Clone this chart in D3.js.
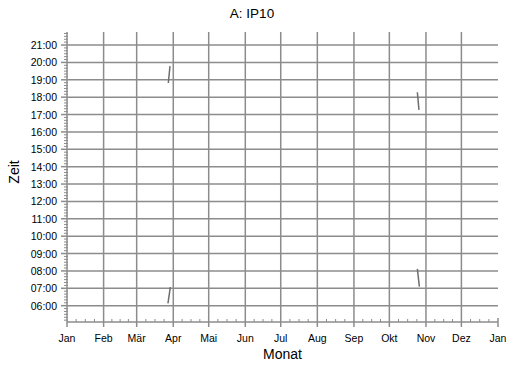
<!DOCTYPE html>
<html>
<head>
<meta charset="utf-8">
<script src="https://cdn.jsdelivr.net/npm/d3@7"></script>
<style>
  html, body { margin: 0; padding: 0; background: #fff; }
  svg { display: block; font-family: "Liberation Sans", Arial, sans-serif; }
</style>
</head>
<body>
<svg id="chart" width="507" height="365"></svg>
<script>
// Month labels (German) and hour labels of the axes
const monthLabels = ["Jan", "Feb", "Mär", "Apr", "Mai", "Jun", "Jul", "Aug", "Sep", "Okt", "Nov", "Dez", "Jan"];
const hourTicks = [6, 7, 8, 9, 10, 11, 12, 13, 14, 15, 16, 17, 18, 19, 20, 21];

// Visible jumps of sunrise / sunset at the clock changes
const sunsetSpring = [
  { date: "2019-03-27T19:00", time: "18:49" },
  { date: "2019-03-29T05:00", time: "19:47" }
];
const sunriseSpring = [
  { date: "2019-03-27T12:00", time: "06:08" },
  { date: "2019-03-29T12:00", time: "07:04" }
];
const sunsetAutumn = [
  { date: "2019-10-24T17:00", time: "18:17" },
  { date: "2019-10-26T02:00", time: "17:16" }
];
const sunriseAutumn = [
  { date: "2019-10-24T17:00", time: "08:07" },
  { date: "2019-10-26T10:00", time: "07:06" }
];
const series = [sunsetSpring, sunriseSpring, sunsetAutumn, sunriseAutumn];

const svg = d3.select("#chart");
const plotLeft = 67, plotRight = 498, plotTop = 32, plotBottom = 322;

const x = d3.scaleUtc()
  .domain([new Date(Date.UTC(2019, 0, 1)), new Date(Date.UTC(2020, 0, 1))])
  .range([plotLeft, plotRight]);
const y = d3.scaleLinear().domain([5.06, 21.75]).range([plotBottom, plotTop]);

const parseDate = d3.utcParse("%Y-%m-%dT%H:%M");
const toHours = s => { const [h, m] = s.split(":").map(Number); return h + m / 60; };

const gridColor = "#8c8c8c";
const months = d3.utcMonths(new Date(Date.UTC(2019, 0, 1)), new Date(Date.UTC(2020, 0, 2)));

// Horizontal grid lines at each full hour
svg.append("g").selectAll("line").data(hourTicks).join("line")
  .attr("x1", plotLeft).attr("x2", plotRight)
  .attr("y1", d => y(d)).attr("y2", d => y(d))
  .attr("stroke", gridColor).attr("stroke-width", 1.5);

// Vertical grid lines at month starts (Feb .. Dez)
svg.append("g").selectAll("line").data(months.slice(1, 12)).join("line")
  .attr("x1", d => x(d)).attr("x2", d => x(d))
  .attr("y1", plotTop).attr("y2", plotBottom)
  .attr("stroke", gridColor).attr("stroke-width", 1.5);

// Y axis: line, 10-minute minor ticks, hour ticks and labels
const yAxis = svg.append("g");
yAxis.append("line").attr("x1", plotLeft).attr("x2", plotLeft).attr("y1", plotTop).attr("y2", plotBottom)
  .attr("stroke", gridColor).attr("stroke-width", 1.5);
const minorY = d3.range(Math.ceil(5.06 * 6), Math.floor(21.75 * 6) + 1).map(v => v / 6)
  .filter(v => Math.abs(v - Math.round(v)) > 1e-6);
yAxis.selectAll(".my").data(minorY).join("line")
  .attr("x1", plotLeft - 3).attr("x2", plotLeft + 1)
  .attr("y1", d => y(d)).attr("y2", d => y(d))
  .attr("stroke", gridColor).attr("stroke-width", 1);
yAxis.selectAll(".My").data(hourTicks).join("line")
  .attr("x1", plotLeft - 6).attr("x2", plotLeft)
  .attr("y1", d => y(d)).attr("y2", d => y(d))
  .attr("stroke", gridColor).attr("stroke-width", 1.5);
yAxis.selectAll("text").data(hourTicks).join("text")
  .attr("x", plotLeft - 10).attr("y", d => y(d) + 4)
  .attr("text-anchor", "end").attr("font-size", "10.5px").attr("fill", "#000")
  .text(d => d3.format("02")(d) + ":00");

// X axis: line, quarter-month minor ticks, month ticks and labels
const xAxis = svg.append("g");
xAxis.append("line").attr("x1", plotLeft).attr("x2", plotRight).attr("y1", plotBottom).attr("y2", plotBottom)
  .attr("stroke", gridColor).attr("stroke-width", 1.5);
const minorX = [];
months.slice(0, 12).forEach(m => {
  const next = d3.utcMonth.offset(m, 1);
  for (let q = 1; q < 4; q++) minorX.push(new Date(+m + (next - m) * q / 4));
});
xAxis.selectAll(".mx").data(minorX).join("line")
  .attr("x1", d => x(d)).attr("x2", d => x(d))
  .attr("y1", plotBottom - 3).attr("y2", plotBottom)
  .attr("stroke", gridColor).attr("stroke-width", 1);
xAxis.selectAll(".Mx").data(months).join("line")
  .attr("x1", d => x(d)).attr("x2", d => x(d))
  .attr("y1", (d, i) => i === 12 ? plotBottom - 4 : plotBottom).attr("y2", plotBottom + 5)
  .attr("stroke", gridColor).attr("stroke-width", 1.5);
xAxis.selectAll("text").data(months).join("text")
  .attr("x", d => x(d)).attr("y", plotBottom + 20)
  .attr("text-anchor", "middle").attr("font-size", "10.5px").attr("fill", "#000")
  .text((d, i) => monthLabels[i]);

// Sunrise / sunset segments
const line = d3.line()
  .x(d => x(parseDate(d.date)))
  .y(d => y(toHours(d.time)));
svg.append("g").selectAll("path").data(series).join("path")
  .attr("d", line)
  .attr("fill", "none").attr("stroke", "#6e6e6e").attr("stroke-width", 1.5);

// Titles
svg.append("text").attr("x", 252).attr("y", 18)
  .attr("text-anchor", "middle").attr("font-size", "13.5px").attr("fill", "#000")
  .text("A: IP10");
svg.append("text").attr("x", (plotLeft + plotRight) / 2).attr("y", 359)
  .attr("text-anchor", "middle").attr("font-size", "14px").attr("fill", "#000")
  .text("Monat");
svg.append("text").attr("transform", "translate(19,172) rotate(-90)")
  .attr("text-anchor", "middle").attr("font-size", "14px").attr("fill", "#000")
  .text("Zeit");
</script>
</body>
</html>
